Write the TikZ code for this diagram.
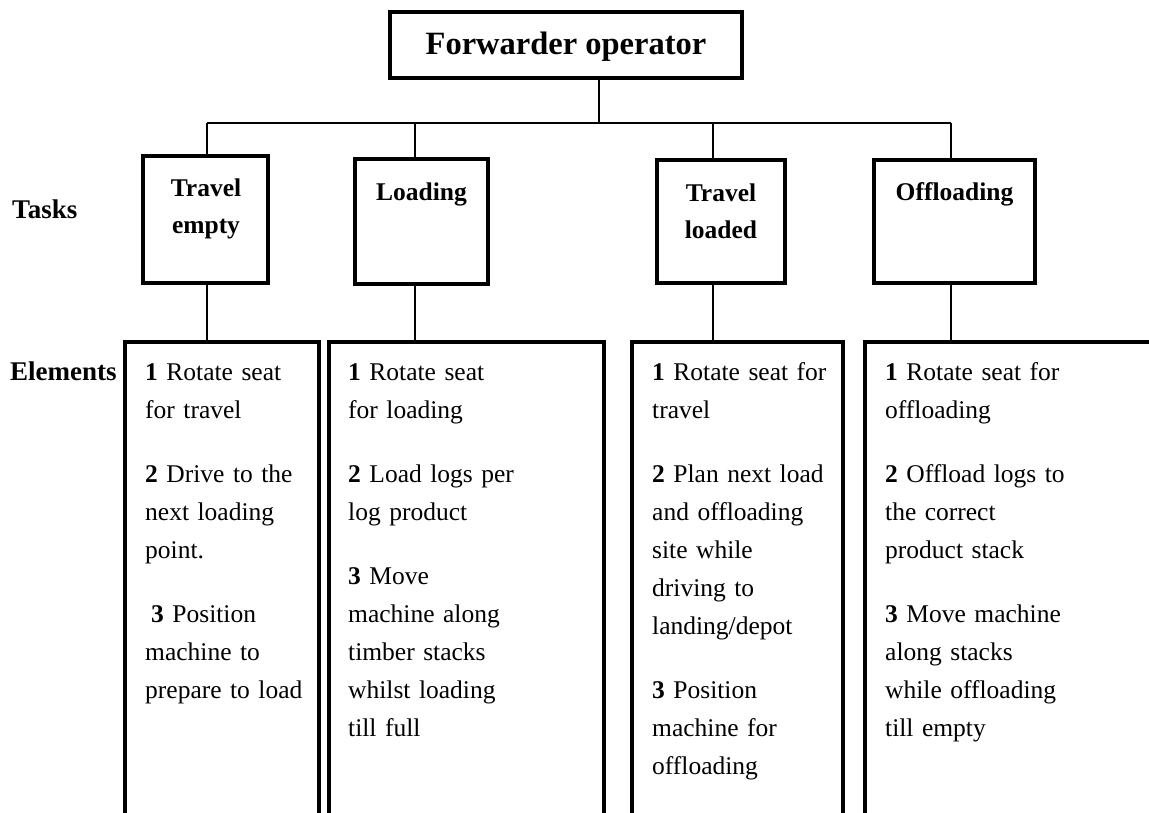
\documentclass[tikz,border=0pt]{standalone}
\usepackage{fontspec}
\setmainfont{Liberation Serif}
\usetikzlibrary{calc}
\begin{document}
\begin{tikzpicture}[x=1pt,y=-1pt,
  frame/.style={draw, line width=4pt, inner sep=0pt, outer sep=0pt, anchor=north west},
  link/.style={line width=2pt},
  headtext/.style={font=\fontsize{25.5}{37}\selectfont\bfseries, inner sep=0pt, align=center, anchor=base},
  toptext/.style={font=\fontsize{32.5}{37}\selectfont\bfseries, inner sep=0pt, anchor=base},
  sidetext/.style={font=\fontsize{27}{37}\selectfont\bfseries, inner sep=0pt, anchor=base west},
  itemtext/.style={font=\fontsize{25.5}{38}\selectfont, inner sep=0pt, align=left, text width=240pt, anchor=base west},
]
\useasboundingbox (0,0) rectangle (1149,812);
\clip (0,0) rectangle (1149,812);
\fill[white] (0,0) rectangle (1149,812);

% top of the hierarchy
\node[frame, minimum width=352pt, minimum height=66pt] (op) at (390,12) {};
\node[toptext] (opl) at (566,54) {Forwarder operator};

% task boxes
\node[frame, minimum width=125pt, minimum height=127pt] (t1) at (143,156) {};
\node[frame, minimum width=133pt, minimum height=125pt] (t2) at (355,159) {};
\node[frame, minimum width=128pt, minimum height=123pt] (t3) at (657,160) {};
\node[frame, minimum width=161pt, minimum height=123pt] (t4) at (874,160) {};
% multi-line labels are placed by the baseline of their last line
\node[headtext] (t1l) at (206,233) {Travel\\empty};
\node[headtext] (t2l) at (421.5,200) {Loading};
\node[headtext] (t3l) at (721,238) {Travel\\loaded};
\node[headtext] (t4l) at (954.5,200) {Offloading};

% element boxes (open towards the bottom and the right)
\node[frame, minimum width=194pt, minimum height=500pt] (e1) at (125,342) {};
\node[frame, minimum width=275pt, minimum height=500pt] (e2) at (329,342) {};
\node[frame, minimum width=211pt, minimum height=500pt] (e3) at (632,342) {};
\node[frame, minimum width=300pt, minimum height=500pt] (e4) at (865,342) {};

% row labels
\node[sidetext] (tasks) at (12,218) {Tasks};
\node[sidetext] (elements) at (10,380) {Elements};

% connectors
\coordinate (hub) at (599,123);
\coordinate (bus1) at (207,123);
\coordinate (bus2) at (415,123);
\coordinate (bus3) at (713,123);
\coordinate (bus4) at (951,123);
\draw[link] (op.south -| hub) -- (hub);
\draw[link] (bus1) -- (bus4);
\foreach \i in {1,2,3,4}{
  \draw[link] (bus\i) -- (bus\i |- t\i.north);
  \draw[link] (bus\i |- t\i.south) -- (bus\i |- e\i.north);
}

% element lists
\node[itemtext] (e1t) at (145,380) {\textbf{1} Rotate seat\\for travel\\[26pt]
  \textbf{2} Drive to the\\next loading\\point.\\[26pt]
  \hspace*{6pt}\textbf{3} Position\\machine to\\prepare to load};
\node[itemtext] (e2t) at (348,380) {\textbf{1} Rotate seat\\for loading\\[26pt]
  \textbf{2} Load logs per\\log product\\[26pt]
  \textbf{3} Move\\machine along\\timber stacks\\whilst loading\\till full};
\node[itemtext] (e3t) at (652,380) {\textbf{1} Rotate seat for\\travel\\[26pt]
  \textbf{2} Plan next load\\and offloading\\site while\\driving to\\landing/depot\\[26pt]
  \textbf{3} Position\\machine for\\offloading};
\node[itemtext] (e4t) at (885,380) {\textbf{1} Rotate seat for\\offloading\\[26pt]
  \textbf{2} Offload logs to\\the correct\\product stack\\[26pt]
  \textbf{3} Move machine\\along stacks\\while offloading\\till empty};
\end{tikzpicture}
\end{document}
